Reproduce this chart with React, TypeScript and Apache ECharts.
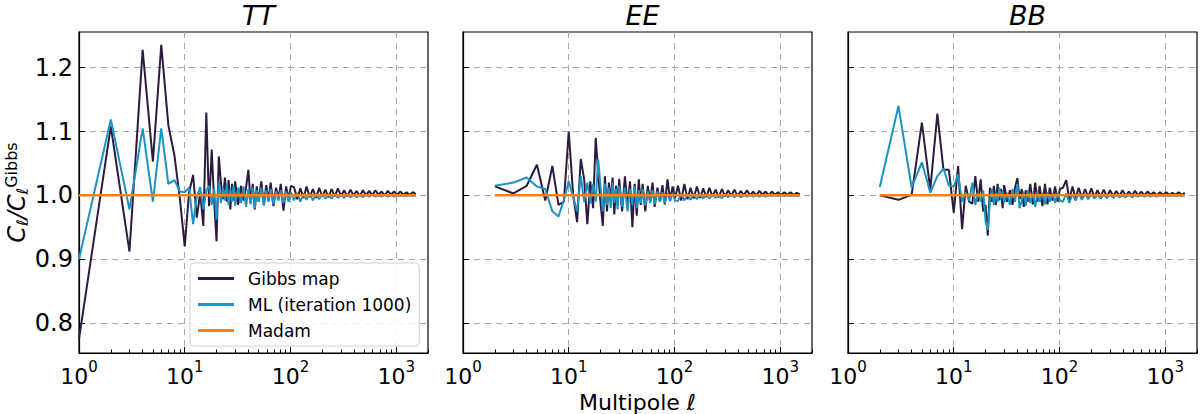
import { useEffect, useRef } from 'react'
import * as echarts from 'echarts'

// multipoles at which the ratios were read (dense at low l, thinned out at high l)
const ELL = [
  1, 2, 3, 4, 5, 6, 7, 8, 9, 10, 11, 12, 13, 14, 15, 16, 17, 18, 19, 20,
  21, 22, 23, 24, 25, 26, 27, 28, 29, 30,
  32, 34, 36, 38, 40, 42, 44, 46, 48, 50, 53, 56, 59, 62, 65, 69, 73, 77, 81, 86,
  91, 96, 101,
  108, 116, 124, 133, 142, 152, 163, 175, 187, 200, 214, 229, 245, 262, 281, 301,
  322, 345, 369, 395, 423, 453, 485, 519, 555, 594, 636, 680, 728, 779, 834, 892,
  955, 1022, 1094, 1171, 1253, 1341, 1435, 1535
]

const TT_GIBBS = [
  0.775, 1.108, 0.912, 1.228, 1.053, 1.236, 1.110, 1.062, 0.995, 0.920,
  1.005, 1.032, 0.965, 1.004, 0.952, 1.130, 0.983, 1.072, 0.990, 0.928,
  1.061, 1.020, 0.994, 1.028, 0.990, 1.024, 0.978, 1.018, 0.992, 1.022,
  0.985, 1.015, 0.992, 1.012, 1.040, 0.988, 1.018, 0.978, 1.014, 0.990,
  1.022, 0.985, 1.016, 0.992, 1.020, 0.983, 1.012, 0.995, 1.018, 0.976,
  1.014, 0.994, 1.015,
  1.013, 0.994, 1.011, 0.996, 1.014, 0.997, 1.010, 0.996, 1.012, 0.998,
  1.009, 0.997, 1.010, 0.998, 1.011, 0.999, 1.008, 0.998, 1.009, 1.000,
  1.007, 0.999, 1.008, 1.000, 1.007, 1.000, 1.008, 1.001, 1.006, 1.000,
  1.007, 1.001, 1.006, 1.001, 1.006, 1.001, 1.005, 1.001, 1.005, 1.002
]

const TT_ML = [
  0.900, 1.119, 0.978, 1.105, 0.990, 1.105, 1.018, 1.024, 1.006, 1.005,
  1.012, 0.955, 0.998, 1.013, 0.978, 1.008, 1.015, 0.985, 1.010, 0.962,
  1.022, 0.988, 1.012, 0.992, 1.018, 0.985, 1.010, 0.990, 1.016, 0.984,
  1.012, 0.988, 1.014, 0.982, 1.010, 0.986, 1.012, 0.980, 1.008, 0.990,
  1.012, 0.984, 1.008, 0.990, 1.010, 0.986, 1.006, 0.992, 1.008, 0.988,
  1.006, 0.990, 1.005,
  0.992, 1.004, 0.990, 1.003, 0.993, 1.004, 0.992, 1.002, 0.994, 1.003,
  0.995, 1.002, 0.995, 1.002, 0.996, 1.001, 0.996, 1.002, 0.997, 1.001,
  0.997, 1.001, 0.997, 1.001, 0.998, 1.001, 0.998, 1.000, 0.998, 1.001,
  0.998, 1.000, 0.998, 1.000, 0.999, 1.000, 0.999, 1.000, 0.999, 1.000
]

const EE_GIBBS = [
  null, 1.014, 1.003, 1.015, 1.048, 0.992, 1.046, 0.985, 0.990, 1.100,
  1.002, 0.958, 1.057, 1.025, 0.955, 1.022, 0.980, 1.090, 1.035, 0.988,
  0.952, 1.030, 0.975, 1.020, 0.992, 1.028, 0.970, 1.015, 0.985, 1.026,
  0.975, 1.030, 0.985, 1.022, 0.950, 1.018, 0.968, 1.025, 0.985, 1.018,
  0.975, 1.015, 0.990, 1.020, 0.982, 1.012, 0.990, 1.016, 0.986, 1.025,
  0.992, 1.014, 0.995,
  1.015, 0.992, 1.018, 0.994, 1.012, 0.995, 1.014, 0.996, 1.011, 0.997,
  1.012, 0.998, 1.009, 0.997, 1.010, 0.998, 1.008, 0.999, 1.009, 0.999,
  1.007, 1.000, 1.008, 1.000, 1.006, 1.000, 1.007, 1.001, 1.006, 1.000,
  1.006, 1.001, 1.005, 1.001, 1.005, 1.001, 1.005, 1.001, 1.004, 1.002
]

const EE_ML = [
  null, 1.015, 1.020, 1.028, 1.014, 1.010, 0.975, 0.967, 0.993, 1.022,
  0.998, 0.975, 1.030, 0.990, 1.020, 0.987, 1.018, 0.990, 1.056, 1.014,
  0.975, 1.018, 0.985, 1.012, 0.980, 1.020, 0.988, 1.010, 0.978, 1.015,
  0.982, 1.012, 0.975, 1.010, 0.985, 1.014, 0.980, 1.008, 0.988, 1.010,
  0.984, 1.006, 0.988, 1.008, 0.986, 1.006, 0.990, 1.005, 0.988, 1.004,
  0.991, 1.004, 0.992,
  0.991, 1.003, 0.992, 1.002, 0.993, 1.003, 0.994, 1.002, 0.995, 1.002,
  0.995, 1.001, 0.996, 1.001, 0.996, 1.001, 0.997, 1.001, 0.997, 1.001,
  0.997, 1.000, 0.998, 1.000, 0.998, 1.000, 0.998, 1.000, 0.998, 1.000,
  0.999, 1.000, 0.999, 1.000, 0.999, 1.000, 0.999, 1.000, 0.999, 1.000
]

const BB_GIBBS = [
  null, 1.000, 0.993, 1.001, 1.114, 1.009, 1.128, 1.040, 1.040, 0.973,
  1.046, 0.947, 1.015, 0.990, 0.987, 1.030, 0.990, 1.025, 0.975, 0.985,
  0.937, 1.012, 0.990, 1.015, 0.985, 1.018, 0.992, 1.010, 0.980, 1.016,
  0.990, 1.008, 0.985, 1.012, 1.027, 0.994, 1.010, 0.982, 1.008, 0.990,
  1.018, 0.986, 1.020, 0.990, 1.015, 0.983, 1.018, 0.986, 1.012, 0.992,
  1.014, 0.990, 1.010,
  1.012, 1.024, 0.993, 1.014, 0.995, 1.012, 0.996, 1.010, 0.997, 1.011,
  0.997, 1.008, 0.998, 1.009, 0.998, 1.008, 0.999, 1.007, 0.999, 1.008,
  0.999, 1.006, 1.000, 1.007, 1.000, 1.006, 1.000, 1.006, 1.001, 1.005,
  1.000, 1.005, 1.001, 1.005, 1.001, 1.004, 1.001, 1.005, 1.001, 1.004
]

const BB_ML = [
  null, 1.013, 1.140, 1.012, 1.052, 1.004, 1.030, 1.042, 1.015, 1.014,
  1.033, 0.990, 1.005, 0.992, 1.020, 0.985, 1.004, 0.990, 1.008, 0.960,
  0.946, 0.990, 1.010, 0.985, 1.004, 0.990, 1.012, 0.995, 1.006, 0.988,
  1.004, 0.985, 1.010, 0.990, 1.018, 0.980, 0.992, 1.006, 0.984, 1.008,
  0.988, 1.004, 0.982, 1.006, 0.990, 1.004, 0.986, 1.005, 0.990, 1.003,
  0.988, 1.004, 0.992,
  0.990, 1.003, 0.988, 1.002, 0.992, 1.003, 0.993, 1.002, 0.994, 1.002,
  0.995, 1.001, 0.995, 1.001, 0.996, 1.001, 0.996, 1.001, 0.997, 1.000,
  0.997, 1.001, 0.997, 1.000, 0.998, 1.000, 0.998, 1.000, 0.998, 1.000,
  0.998, 1.000, 0.999, 1.000, 0.999, 1.000, 0.999, 1.000, 0.999, 1.000
]

// Madam is the reference, so its ratio is flat
const MADAM_RATIO = 1.0

const PANELS = [
  { title: 'TT', gibbs: TT_GIBBS, ml: TT_ML, lmin: 1 },
  { title: 'EE', gibbs: EE_GIBBS, ml: EE_ML, lmin: 2 },
  { title: 'BB', gibbs: BB_GIBBS, ml: BB_ML, lmin: 2 }
]

const Y_TICKS = [0.8, 0.9, 1.0, 1.1, 1.2]
const X_TICKS = [1, 10, 100, 1000]
const X_MINOR = [
  2, 3, 4, 5, 6, 7, 8, 9, 20, 30, 40, 50, 60, 70, 80, 90,
  200, 300, 400, 500, 600, 700, 800, 900, 2000
]

const NAMES = ['Gibbs map', 'ML (iteration 1000)', 'Madam']
const COLORS = ['#2c1b3f', '#1b93c4', '#ff7f0e']
const FONT = 'DejaVu Sans'

const GRID_LEFT = [79, 463, 848]
const GRID_W = 349
const GRID_TOP = 32
const GRID_H = 321

function pairs(vals: (number | null)[]) {
  const out: [number, number][] = []
  ELL.forEach((l, i) => {
    const v = vals[i]
    if (v !== null && v !== undefined) out.push([l, v])
  })
  return out
}

export default function App() {
  const ref = useRef<HTMLDivElement>(null)

  useEffect(() => {
    if (!ref.current) return
    const chart = echarts.init(ref.current, null, { renderer: 'svg' })

    const grids: any[] = []
    const xAxes: any[] = []
    const yAxes: any[] = []
    const series: any[] = []
    const titles: any[] = []

    PANELS.forEach((p, i) => {
      grids.push({
        left: GRID_LEFT[i],
        top: GRID_TOP,
        width: GRID_W,
        height: GRID_H,
        show: true,
        borderColor: '#000',
        borderWidth: 1.2,
        backgroundColor: 'transparent',
        outerBoundsMode: 'none'
      })
      titles.push({
        text: p.title,
        left: GRID_LEFT[i] + GRID_W / 2,
        top: -3,
        textAlign: 'center',
        textStyle: {
          fontFamily: FONT,
          fontStyle: 'italic',
          fontWeight: 'normal',
          fontSize: 27,
          color: '#000'
        }
      })
      xAxes.push({
        type: 'log',
        gridIndex: i,
        min: 1,
        max: 2000,
        logBase: 10,
        name: i === 1 ? 'Multipole ℓ' : '',
        nameLocation: 'middle',
        nameGap: 33,
        nameTextStyle: { fontFamily: FONT, fontSize: 22, color: '#000' },
        axisLine: { show: true, lineStyle: { color: '#000', width: 1.2 } },
        axisTick: { show: true, inside: true, length: 6, customValues: X_TICKS, lineStyle: { color: '#000' } },
        axisLabel: {
          show: true,
          customValues: X_TICKS,
          margin: 6,
          formatter: (v: number) => `{b|10}{s|${Math.round(Math.log10(v))}}`,
          rich: {
            b: { fontFamily: FONT, fontSize: 22, color: '#000', verticalAlign: 'bottom', lineHeight: 28 },
            s: { fontFamily: FONT, fontSize: 15, color: '#000', verticalAlign: 'top', lineHeight: 28 }
          }
        },
        splitLine: { show: true, lineStyle: { color: '#a8a8a8', type: [6, 5], width: 1 } }
      })
      yAxes.push({
        type: 'value',
        gridIndex: i,
        min: 0.753,
        max: 1.256,
        name: i === 0 ? '{c|C}{s|ℓ}{c|/C}{s|ℓ}{u|Gibbs}' : '',
        nameLocation: 'middle',
        nameRotate: 90,
        nameGap: 42,
        nameTextStyle: {
          rich: {
            c: { fontFamily: FONT, fontStyle: 'italic', fontSize: 24, color: '#000', lineHeight: 27 },
            s: { fontFamily: FONT, fontStyle: 'italic', fontSize: 16, color: '#000', verticalAlign: 'bottom', lineHeight: 27 },
            u: { fontFamily: FONT, fontSize: 16, color: '#000', verticalAlign: 'top', lineHeight: 27 }
          }
        },
        axisLine: { show: true, lineStyle: { color: '#000', width: 1.2 } },
        axisTick: { show: true, inside: true, length: 6, customValues: Y_TICKS, lineStyle: { color: '#000' } },
        axisLabel: {
          show: i === 0,
          customValues: Y_TICKS,
          margin: 6,
          formatter: (v: number) => v.toFixed(1),
          fontFamily: FONT,
          fontSize: 24,
          color: '#000'
        },
        splitLine: { show: true, lineStyle: { color: '#a8a8a8', type: [6, 5], width: 1 } }
      })

      const madam = ELL.filter(l => l >= p.lmin).map(l => [l, MADAM_RATIO])
      const data = [pairs(p.gibbs), pairs(p.ml), madam]
      data.forEach((d, k) => {
        series.push({
          name: NAMES[k],
          type: 'line',
          xAxisIndex: i,
          yAxisIndex: i,
          data: d,
          symbol: 'none',
          color: COLORS[k],
          lineStyle: { color: COLORS[k], width: k === 2 ? 2.5 : 2 },
          z: 2 + k
        })
      })
    })

    // minor ticks on the log axes (2..9 per decade)
    PANELS.forEach((_, i) => {
      xAxes.push({
        type: 'log',
        gridIndex: i,
        min: 1,
        max: 2000,
        logBase: 10,
        position: 'bottom',
        axisLine: { show: false },
        axisLabel: { show: false },
        splitLine: { show: false },
        axisTick: { show: true, inside: true, length: 3.5, customValues: X_MINOR, lineStyle: { color: '#000' } }
      })
    })

    chart.setOption({
      animation: false,
      backgroundColor: '#fff',
      title: titles,
      grid: grids,
      xAxis: xAxes,
      yAxis: yAxes,
      series,
      legend: {
        show: true,
        data: NAMES,
        orient: 'vertical',
        left: 190,
        top: 263,
        padding: [6, 8, 6, 8],
        itemGap: 7,
        itemWidth: 36,
        itemHeight: 3,
        icon: 'rect',
        backgroundColor: 'rgba(255,255,255,0.85)',
        borderColor: '#d0d0d0',
        borderWidth: 1,
        borderRadius: 4,
        selectedMode: false,
        textStyle: { fontFamily: FONT, fontSize: 17, color: '#000', padding: [0, 0, 0, 9], lineHeight: 19 }
      }
    })

    return () => {
      chart.dispose()
    }
  }, [])

  return (
    <div
      ref={ref}
      style={{ position: 'absolute', left: 0, top: 0, width: '1200px', height: '414px' }}
    />
  )
}
